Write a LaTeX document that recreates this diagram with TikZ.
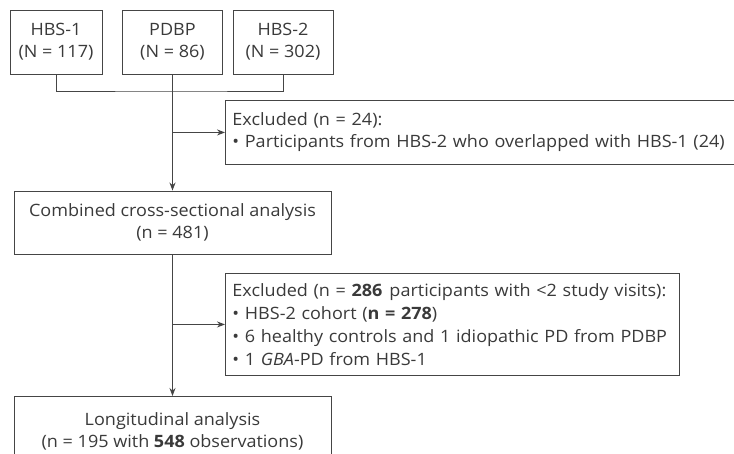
\documentclass[tikz,border=0pt]{standalone}
\usepackage{fontspec}
\setmainfont{Open Sans}[FakeStretch=1.06]
\usetikzlibrary{arrows.meta,positioning,calc}
\definecolor{txt}{HTML}{3A3A3A}
\definecolor{ln}{HTML}{454545}
\begin{document}
\begin{tikzpicture}[x=1pt,y=-1pt,
  box/.style={draw=ln,line width=0.9pt,text=txt,inner sep=0pt,align=center,
    font=\fontsize{17}{22}\selectfont},
  exbox/.style={draw=ln,line width=0.9pt,text=txt,inner xsep=7pt,inner ysep=0pt,align=left,
    font=\fontsize{17}{23}\selectfont,anchor=north west},
  conn/.style={draw=ln,line width=0.9pt},
  arr/.style={conn,-{Stealth[length=8pt,width=6pt]}}]
\useasboundingbox (0,0) rectangle (734,453);
\clip (0,0) rectangle (734,453);
\fill[white] (0,0) rectangle (734,453);

\node[box,minimum width=92pt,minimum height=64pt] (hbs1) at (56,42) {HBS-1\\(N = 117)};
\node[box,minimum width=100pt,minimum height=64pt] (pdbp) at (172.5,42) {PDBP\\(N = 86)};
\node[box,minimum width=100pt,minimum height=64pt] (hbs2) at (283,42) {HBS-2\\(N = 302)};

\node[exbox,minimum width=560pt,minimum height=64pt,text width=546pt] (ex1) at (225,100)
  {Excluded (n = 24):\\[-1pt]\textbullet{} Participants from HBS-2 who overlapped with HBS-1 (24)};

\node[box,minimum width=317pt,minimum height=63pt] (comb) at (172.5,222.5)
  {Combined cross-sectional analysis\\(n = 481)};

\node[exbox,minimum width=447pt,minimum height=102pt,text width=440pt] (ex2) at (225,273)
  {Excluded (n = \textbf{286}\hspace{7pt}participants with <2 study visits):\\
   \textbullet{} HBS-2 cohort (\textbf{n = 278})\\
   \textbullet{} 6 healthy controls and 1 idiopathic PD from PDBP\\
   \textbullet{} 1 \textit{GBA}-PD from HBS-1};

\node[box,minimum width=317pt,minimum height=70pt,anchor=north] (long) at (172.5,396)
  {Longitudinal analysis\\(n = 195 with \textbf{548} observations)};

\coordinate (j1) at (pdbp.south |- 0,91);
\draw[conn] (hbs1.south) |- (j1) -| (hbs2.south);
\draw[conn] (pdbp.south) -- (j1);
\draw[arr] (j1) -- (comb.north);
\draw[arr] (pdbp.south |- ex1.west) -- (ex1.west);
\draw[arr] (comb.south) -- (long.north);
\draw[arr] (comb.south |- ex2.west) -- (ex2.west);
\end{tikzpicture}
\end{document}
